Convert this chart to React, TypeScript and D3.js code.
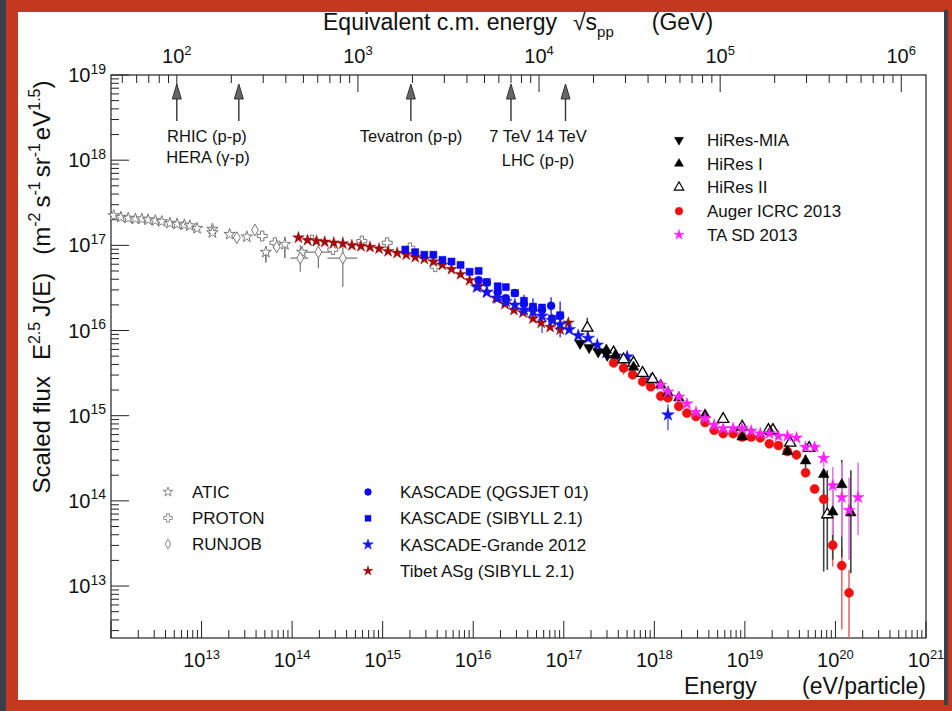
import React from 'react';
import * as d3 from 'd3';

// values: [log10 E (eV), log10 E^2.5 J(E)]
const atic = [
  [12.03, 17.35], [12.11, 17.33], [12.19, 17.32], [12.27, 17.31], [12.34, 17.31], [12.41, 17.3],
  [12.49, 17.29], [12.56, 17.28], [12.65, 17.26], [12.73, 17.25], [12.81, 17.24], [12.87, 17.23],
  [12.95, 17.2], [13.12, 17.19], [13.12, 17.15], [13.31, 17.13], [13.5, 17.1], [13.71, 16.92],
  [13.92, 17.01], [14.11, 16.92],
];
const proton = [
  [13.67, 17.11], [13.81, 17.03], [14.22, 17.06], [14.45, 16.95], [14.77, 17.05], [15.05, 17.03],
  [15.3, 16.97], [15.58, 16.75],
];
const runjob = [[13.39, 17.09], [13.59, 17.18], [13.83, 16.98], [14.09, 16.85], [14.29, 16.92], [14.56, 16.85]];
const tibet = [
  [14.07, 17.09], [14.17, 17.06], [14.27, 17.05], [14.36, 17.04], [14.46, 17.03], [14.56, 17.02],
  [14.66, 17.0], [14.76, 16.99], [14.86, 16.98], [14.96, 16.96], [15.06, 16.93], [15.16, 16.91],
  [15.26, 16.89], [15.36, 16.86], [15.46, 16.84], [15.56, 16.81], [15.66, 16.77], [15.76, 16.72],
  [15.86, 16.66], [15.96, 16.59], [16.06, 16.52], [16.15, 16.45], [16.25, 16.38], [16.35, 16.31],
  [16.45, 16.24], [16.55, 16.21], [16.66, 16.14], [16.75, 16.09], [16.85, 16.04], [16.96, 16.01],
  [17.05, 16.09],
];
const kascadeSib = [
  [15.25, 16.95], [15.36, 16.92], [15.46, 16.89], [15.56, 16.89], [15.66, 16.83], [15.76, 16.81],
  [15.86, 16.77], [15.96, 16.69], [16.06, 16.7], [16.15, 16.57], [16.27, 16.52], [16.36, 16.51],
  [16.46, 16.44], [16.56, 16.35], [16.66, 16.28], [16.76, 16.27], [16.87, 16.14], [16.96, 16.18],
];
const kascadeQgs = [
  [16.06, 16.59], [16.15, 16.56], [16.27, 16.45], [16.36, 16.38], [16.46, 16.44], [16.56, 16.31],
  [16.66, 16.27], [16.76, 16.24], [16.86, 16.29], [16.96, 16.17],
];
const grande = [
  [16.04, 16.51], [16.15, 16.45], [16.27, 16.38], [16.36, 16.34], [16.46, 16.3], [16.56, 16.24],
  [16.66, 16.22], [16.76, 16.17], [16.87, 16.12], [16.96, 16.07], [17.06, 16.01], [17.16, 15.94],
  [17.27, 15.91], [17.37, 15.83], [17.47, 15.74], [17.57, 15.7], [17.7, 15.69], [17.96, 15.42],
  [18.15, 15.01],
];
const hiresMia = [[17.18, 15.85], [17.28, 15.8], [17.38, 15.75], [17.48, 15.71]];
const hires1 = [
  [17.47, 15.77], [17.57, 15.71], [17.77, 15.57], [18.07, 15.36], [18.15, 15.27], [18.27, 15.21],
  [18.56, 15.01], [18.97, 14.75], [19.28, 14.81], [19.47, 14.58], [19.67, 14.47], [19.87, 14.31],
  [19.97, 13.87], [20.07, 14.19], [20.17, 13.86],
];
const hires2 = [
  [17.26, 16.03], [17.55, 15.74], [17.66, 15.66], [17.77, 15.62], [17.87, 15.5], [17.98, 15.43],
  [18.76, 14.96], [18.97, 14.87], [19.26, 14.83], [19.31, 14.83], [19.5, 14.68], [19.71, 14.62],
  [19.91, 13.84],
];
const auger = [
  [17.55, 15.62], [17.66, 15.56], [17.76, 15.48], [17.87, 15.4], [17.96, 15.34], [18.07, 15.23],
  [18.15, 15.21], [18.27, 15.11], [18.36, 15.03], [18.46, 14.99], [18.56, 14.92], [18.66, 14.83],
  [18.76, 14.79], [18.87, 14.79], [18.97, 14.75], [19.07, 14.75], [19.17, 14.74], [19.27, 14.67],
  [19.37, 14.65], [19.47, 14.58], [19.57, 14.54], [19.67, 14.33], [19.77, 14.14], [19.87, 14.02],
  [19.97, 13.48], [20.07, 13.24], [20.15, 12.92],
];
const taSd = [
  [18.07, 15.36], [18.15, 15.28], [18.27, 15.22], [18.36, 15.14], [18.46, 15.04], [18.56, 14.97],
  [18.66, 14.89], [18.76, 14.85], [18.87, 14.85], [18.97, 14.85], [19.07, 14.82], [19.17, 14.79],
  [19.27, 14.79], [19.37, 14.76], [19.47, 14.76], [19.57, 14.74], [19.67, 14.63], [19.77, 14.63],
  [19.87, 14.5], [19.97, 14.18], [20.07, 14.04], [20.15, 13.89], [20.25, 14.04],
];

// error bars: [log10 E, low, high]
const aticErr = [[13.71, 16.8, 16.99], [13.92, 16.85, 17.1]];
const qgsErr = [[16.56, 16.22, 16.42], [16.66, 16.18, 16.38], [16.86, 16.01, 16.39], [16.96, 15.92, 16.34]];
const grandeErr = [[16.76, 15.97, 16.3], [18.15, 14.83, 15.13]];
const hires1Err = [[19.67, 14.36, 14.54], [19.87, 13.17, 14.33], [19.97, 13.31, 14.13], [20.07, 13.34, 14.48], [20.17, 13.15, 14.36]];
const hires2Err = [[17.26, 15.89, 16.15], [19.91, 13.19, 14.36]];
const augerErr = [[17.66, 15.48, 15.62], [19.87, 13.89, 14.13], [19.97, 13.23, 13.69], [20.07, 12.49, 13.45], [20.15, 12.39, 13.19]];
const taErr = [[19.87, 14.39, 14.58], [19.97, 13.6, 14.4], [20.07, 13.58, 14.45], [20.15, 13.31, 14.27], [20.25, 13.6, 14.45]];
// RUNJOB with energy bars: [log10 E, Elo, Ehi, Jlo, Jhi]
const runjobErr = [[14.09, 13.98, 14.18, 16.69, 17.0], [14.29, 14.14, 14.42, 16.73, 17.0], [14.56, 14.39, 14.72, 16.51, 17.1]];

// collider arrows, sqrt(s) in GeV
const colliders = [100, 220, 1960, 7000, 14000];

const xTickPowers = [13, 14, 15, 16, 17, 18, 19, 20, 21];
const yTickPowers = [13, 14, 15, 16, 17, 18, 19];
const topTickPowers = [2, 3, 4, 5, 6];

const font = "'Liberation Sans', Arial, Helvetica, sans-serif";
const mp = 0.938; // GeV
const ecm = (e: number) => Math.sqrt(2 * mp * (e / 1e9));

const x = d3.scaleLog().domain([1e12, 1e21]).range([111, 926]);
const y = d3.scaleLog().domain([10 ** 12.39, 1e19]).range([638, 75]);
const xt = d3.scaleLog().domain([ecm(1e12), ecm(1e21)]).range([111, 926]);
const [y0, y1] = y.range();
const [x0, x1] = x.range();

const sym = (t: d3.SymbolType, s: number) => d3.symbol().type(t).size(s)() || '';

type Marker = { path: string; fill: string; stroke: string; sw: number; rot?: number };
const mk = {
  openStar: { path: sym(d3.symbolStar, 40), fill: '#fff', stroke: '#777', sw: 1 },
  openCross: { path: sym(d3.symbolCross, 55), fill: '#fff', stroke: '#777', sw: 1 },
  openDiamond: { path: sym(d3.symbolDiamond, 40), fill: '#fff', stroke: '#777', sw: 1 },
  tibet: { path: sym(d3.symbolStar, 42), fill: '#a00c0c', stroke: '#a00c0c', sw: 0.5 },
  blueCircle: { path: sym(d3.symbolCircle, 50), fill: '#0a0aee', stroke: '#0a0aee', sw: 0.5 },
  blueSquare: { path: sym(d3.symbolSquare, 50), fill: '#0a0aee', stroke: '#0a0aee', sw: 0.5 },
  blueStar: { path: sym(d3.symbolStar, 50), fill: '#1414ee', stroke: '#1414ee', sw: 0.5 },
  down: { path: sym(d3.symbolTriangle, 50), fill: '#000', stroke: '#000', sw: 0.5, rot: 180 },
  up: { path: sym(d3.symbolTriangle, 50), fill: '#000', stroke: '#000', sw: 0.5 },
  upOpen: { path: sym(d3.symbolTriangle, 55), fill: '#fff', stroke: '#000', sw: 1.3 },
  auger: { path: sym(d3.symbolCircle, 65), fill: '#ee1111', stroke: '#ee1111', sw: 0.5 },
  ta: { path: sym(d3.symbolStar, 45), fill: '#ff22ff', stroke: '#ff22ff', sw: 0.5 },
} as Record<string, Marker>;

const series = [
  { data: atic, m: mk.openStar },
  { data: proton, m: mk.openCross },
  { data: runjob, m: mk.openDiamond },
  { data: tibet, m: mk.tibet },
  { data: kascadeSib, m: mk.blueSquare },
  { data: kascadeQgs, m: mk.blueCircle },
  { data: grande, m: mk.blueStar },
  { data: auger, m: mk.auger },
  { data: hiresMia, m: mk.down },
  { data: hires2, m: mk.upOpen },
  { data: hires1, m: mk.up },
  { data: taSd, m: mk.ta },
];

const errSets = [
  { data: aticErr, color: '#777' },
  { data: qgsErr, color: '#4a4ad8' },
  { data: grandeErr, color: '#6a6ae0' },
  { data: augerErr, color: '#e86a6a' },
  { data: hires2Err, color: '#444' },
  { data: hires1Err, color: '#444' },
  { data: taErr, color: '#e878e8' },
];

const legendTop = [
  { label: 'HiRes-MIA', m: mk.down },
  { label: 'HiRes I', m: mk.up },
  { label: 'HiRes II', m: mk.upOpen },
  { label: 'Auger ICRC 2013', m: mk.auger },
  { label: 'TA SD 2013', m: mk.ta },
];
const legendLow1 = [
  { label: 'ATIC', m: mk.openStar },
  { label: 'PROTON', m: mk.openCross },
  { label: 'RUNJOB', m: mk.openDiamond },
];
const legendLow2 = [
  { label: 'KASCADE (QGSJET 01)', m: mk.blueCircle },
  { label: 'KASCADE (SIBYLL 2.1)', m: mk.blueSquare },
  { label: 'KASCADE-Grande 2012', m: mk.blueStar },
  { label: 'Tibet ASg (SIBYLL 2.1)', m: mk.tibet },
];

const Mark = ({ m, cx, cy, s = 1 }: { m: Marker; cx: number; cy: number; s?: number }) => (
  <path
    d={m.path}
    transform={`translate(${cx},${cy})${m.rot ? ` rotate(${m.rot})` : ''}${s !== 1 ? ` scale(${s})` : ''}`}
    fill={m.fill}
    stroke={m.stroke}
    strokeWidth={m.sw}
  />
);

function decadeTicks(lo: number, hi: number, from: number, to: number) {
  const out: { v: number; major: boolean }[] = [];
  for (let d = from; d <= to; d++) {
    for (let k = 1; k <= 9; k++) {
      const v = k * 10 ** d;
      if (v >= lo * 0.999 && v <= hi * 1.001) out.push({ v, major: k === 1 });
    }
  }
  return out;
}

const Pow = ({ px, py, p, anchor, size, sup }: { px: number; py: number; p: number; anchor: string; size: number; sup: number }) => (
  <text x={px} y={py} textAnchor={anchor} fontSize={size} fill="#111">
    10<tspan dy={-size * 0.42} fontSize={sup}>{p}</tspan>
  </text>
);

export default function App() {
  const xd = x.domain();
  const yd = y.domain();
  const td = xt.domain();
  const bottomTicks = decadeTicks(xd[0], xd[1], 12, 21);
  const leftTicks = decadeTicks(yd[0], yd[1], 12, 19);
  const topTicks = decadeTicks(td[0], td[1], 1, 6);
  const lgLeg = 17;
  const ls = 0.85;

  return (
    <svg width={952} height={711} style={{ position: 'absolute', left: 0, top: 0 }} fontFamily={font}>
      <rect width={952} height={711} fill="#3a3f4b" />
      <rect x={6} y={0} width={946} height={711} fill="#c4381f" />
      <rect x={944} y={10} width={4} height={695} fill="#3a3f4b" />
      <rect x={18} y={12} width={926} height={688} fill="#fff" />

      {/* frame */}
      <rect x={x0} y={y1} width={x1 - x0} height={y0 - y1} fill="none" stroke="#222" strokeWidth={1.2} />

      {/* bottom ticks */}
      {bottomTicks.map((t, i) => (
        <line key={'b' + i} x1={x(t.v)} x2={x(t.v)} y1={y0} y2={y0 - (t.major ? 17 : 8)} stroke="#222" />
      ))}
      {xTickPowers.map((p) => (
        <Pow key={'bl' + p} px={x(10 ** p)} py={667} p={p} anchor="middle" size={20} sup={13} />
      ))}

      {/* left ticks */}
      {leftTicks.map((t, i) => (
        <line key={'l' + i} x1={x0} x2={x0 + (t.major ? 18 : 8)} y1={y(t.v)} y2={y(t.v)} stroke="#222" />
      ))}
      {yTickPowers.map((p) => (
        <Pow key={'ll' + p} px={106} py={y(10 ** p) + 7} p={p} anchor="end" size={20} sup={14} />
      ))}

      {/* top axis: equivalent c.m. energy */}
      {topTicks.map((t, i) => (
        <line key={'t' + i} x1={xt(t.v)} x2={xt(t.v)} y1={y1} y2={y1 + (t.major ? 17 : 8)} stroke="#222" />
      ))}
      {topTickPowers.map((p) => (
        <Pow key={'tl' + p} px={xt(10 ** p)} py={63} p={p} anchor="middle" size={20} sup={13} />
      ))}
      <text x={323} y={30} fontSize={23} fill="#111">
        Equivalent c.m. energy
        <tspan dx={16}>√s</tspan>
        <tspan dy={7} fontSize={15}>pp</tspan>
        <tspan dy={-7} dx={38}>(GeV)</tspan>
      </text>

      {/* collider arrows */}
      {colliders.map((g, i) => {
        const cx = xt(g);
        return (
          <g key={'a' + i}>
            <line x1={cx} x2={cx} y1={121} y2={96} stroke="#333" strokeWidth={1.4} />
            <path d={`M${cx},84 L${cx - 4.5},99 L${cx + 4.5},99 Z`} fill="#666" stroke="#333" strokeWidth={1} />
          </g>
        );
      })}
      <g fontSize={16.5} fill="#111" textAnchor="middle">
        <text x={207} y={142}>RHIC (p-p)</text>
        <text x={208} y={163}>HERA (γ-p)</text>
        <text x={411} y={142}>Tevatron (p-p)</text>
        <text x={538} y={142}>7 TeV 14 TeV</text>
        <text x={538} y={166}>LHC (p-p)</text>
      </g>

      {/* axis titles */}
      <text x={684} y={694} fontSize={23} fill="#111">Energy</text>
      <text x={926} y={694} fontSize={23} fill="#111" textAnchor="end">(eV/particle)</text>
      <text transform="translate(50,287) rotate(-90)" textAnchor="middle" fontSize={24} fill="#111">
        Scaled flux
        <tspan dx={16}>E</tspan>
        <tspan dy={-10} fontSize={16}>2.5</tspan>
        <tspan dy={10} dx={5}>J(E)</tspan>
        <tspan dx={18}>(m</tspan>
        <tspan dy={-10} fontSize={16}>-2</tspan>
        <tspan dy={10} dx={5}>s</tspan>
        <tspan dy={-10} fontSize={16}>-1</tspan>
        <tspan dy={10} dx={4}>sr</tspan>
        <tspan dy={-10} fontSize={16}>-1</tspan>
        <tspan dy={10} dx={3}>eV</tspan>
        <tspan dy={-10} fontSize={16}>1.5</tspan>
        <tspan dy={10}>)</tspan>
      </text>

      <g>
        {/* error bars */}
        {runjobErr.map((e, i) => (
          <g key={'rj' + i} stroke="#777" strokeWidth={1.2}>
            <line x1={x(10 ** e[0])} x2={x(10 ** e[0])} y1={y(10 ** e[3])} y2={y(10 ** e[4])} />
            <line x1={x(10 ** e[1])} x2={x(10 ** e[2])} y1={y(10 ** runjob[3 + i][1])} y2={y(10 ** runjob[3 + i][1])} />
          </g>
        ))}
        {errSets.map((s, si) =>
          s.data.map((e, i) => (
            <line
              key={'e' + si + '-' + i}
              x1={x(10 ** e[0])}
              x2={x(10 ** e[0])}
              y1={Math.min(y0, y(10 ** e[1]))}
              y2={y(10 ** e[2])}
              stroke={s.color}
              strokeWidth={1.6}
            />
          ))
        )}
        {/* markers */}
        {series.map((s, si) =>
          s.data.map((d, i) => <Mark key={'m' + si + '-' + i} m={s.m} cx={x(10 ** d[0])} cy={y(10 ** d[1])} />)
        )}
      </g>

      {/* legends */}
      <g fontSize={lgLeg} fill="#111">
        {legendTop.map((l, i) => {
          const cy = 140 + i * 23.7;
          return (
            <g key={'lt' + i}>
              <Mark m={l.m} cx={679} cy={cy} s={ls} />
              <text x={707} y={cy + 6}>{l.label}</text>
            </g>
          );
        })}
        {legendLow1.map((l, i) => {
          const cy = 492 + i * 26;
          return (
            <g key={'l1' + i}>
              <Mark m={l.m} cx={168} cy={cy} s={ls} />
              <text x={192} y={cy + 6}>{l.label}</text>
            </g>
          );
        })}
        {legendLow2.map((l, i) => {
          const cy = 492 + i * 26.3;
          return (
            <g key={'l2' + i}>
              <Mark m={l.m} cx={368} cy={cy} s={ls} />
              <text x={400} y={cy + 6}>{l.label}</text>
            </g>
          );
        })}
      </g>
    </svg>
  );
}
